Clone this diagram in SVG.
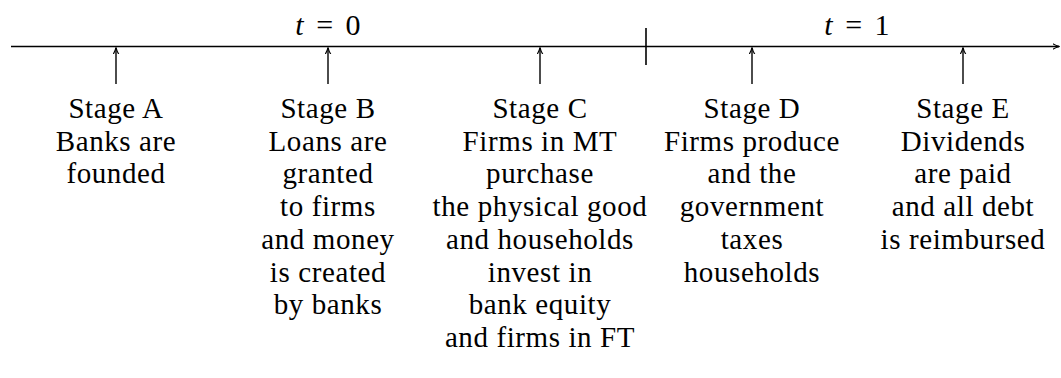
<svg xmlns="http://www.w3.org/2000/svg" width="1061" height="378" viewBox="0 0 1061 378">
  <style>
    .lbl { font-family: "Liberation Serif", "Times New Roman", serif; font-size: 29px; fill: #000; text-anchor: middle; letter-spacing: 0.6px; }
    .tl { font-family: "Liberation Serif", "Times New Roman", serif; font-size: 30px; fill: #000; text-anchor: middle; word-spacing: 5px; }
    .axis { stroke: #000; stroke-width: 1.6; fill: none; }
    .arr { stroke: #000; stroke-width: 1.4; fill: none; marker-end: url(#ah); }
  </style>
  <defs>
    <marker id="ah" viewBox="0 0 10 10" refX="9" refY="5" markerWidth="7" markerHeight="7" markerUnits="userSpaceOnUse" orient="auto">
      <path d="M0,1 Q5,4 10,5 Q5,6 0,9" fill="none" stroke="#000" stroke-width="1.6"/>
    </marker>
    <marker id="axh" viewBox="0 0 10 10" refX="9" refY="5" markerWidth="7" markerHeight="7" markerUnits="userSpaceOnUse" orient="auto">
      <path d="M0,1 Q5,4 10,5 Q5,6 0,9" fill="none" stroke="#000" stroke-width="1.6"/>
    </marker>
  </defs>

  <g id="connectors">
    <line class="axis" x1="11" y1="46.5" x2="1059" y2="46.5" marker-end="url(#axh)"/>
    <line class="axis" x1="646" y1="28" x2="646" y2="65"/>
    <line class="arr" x1="116" y1="84" x2="116" y2="48"/>
    <line class="arr" x1="328" y1="84" x2="328" y2="48"/>
    <line class="arr" x1="540" y1="84" x2="540" y2="48"/>
    <line class="arr" x1="752" y1="84" x2="752" y2="48"/>
    <line class="arr" x1="963" y1="84" x2="963" y2="48"/>
  </g>

  <g id="period0">
    <text class="tl" x="328" y="35"><tspan font-style="italic">t</tspan> = 0</text>
  </g>
  <g id="period1">
    <text class="tl" x="857" y="35"><tspan font-style="italic">t</tspan> = 1</text>
  </g>

  <g id="stageA">
    <text class="lbl" x="116" y="118">Stage A</text>
    <text class="lbl" x="116" y="150.7">Banks are</text>
    <text class="lbl" x="116" y="183.4">founded</text>
  </g>
  <g id="stageB">
    <text class="lbl" x="328" y="118">Stage B</text>
    <text class="lbl" x="328" y="150.7">Loans are</text>
    <text class="lbl" x="328" y="183.4">granted</text>
    <text class="lbl" x="328" y="216.1">to firms</text>
    <text class="lbl" x="328" y="248.8">and money</text>
    <text class="lbl" x="328" y="281.5">is created</text>
    <text class="lbl" x="328" y="314.2">by banks</text>
  </g>
  <g id="stageC">
    <text class="lbl" x="540" y="118">Stage C</text>
    <text class="lbl" x="540" y="150.7">Firms in MT</text>
    <text class="lbl" x="540" y="183.4">purchase</text>
    <text class="lbl" x="540" y="216.1">the physical good</text>
    <text class="lbl" x="540" y="248.8">and households</text>
    <text class="lbl" x="540" y="281.5">invest in</text>
    <text class="lbl" x="540" y="314.2">bank equity</text>
    <text class="lbl" x="540" y="346.9">and firms in FT</text>
  </g>
  <g id="stageD">
    <text class="lbl" x="752" y="118">Stage D</text>
    <text class="lbl" x="752" y="150.7">Firms produce</text>
    <text class="lbl" x="752" y="183.4">and the</text>
    <text class="lbl" x="752" y="216.1">government</text>
    <text class="lbl" x="752" y="248.8">taxes</text>
    <text class="lbl" x="752" y="281.5">households</text>
  </g>
  <g id="stageE">
    <text class="lbl" x="963" y="118">Stage E</text>
    <text class="lbl" x="963" y="150.7">Dividends</text>
    <text class="lbl" x="963" y="183.4">are paid</text>
    <text class="lbl" x="963" y="216.1">and all debt</text>
    <text class="lbl" x="963" y="248.8">is reimbursed</text>
  </g>
</svg>
